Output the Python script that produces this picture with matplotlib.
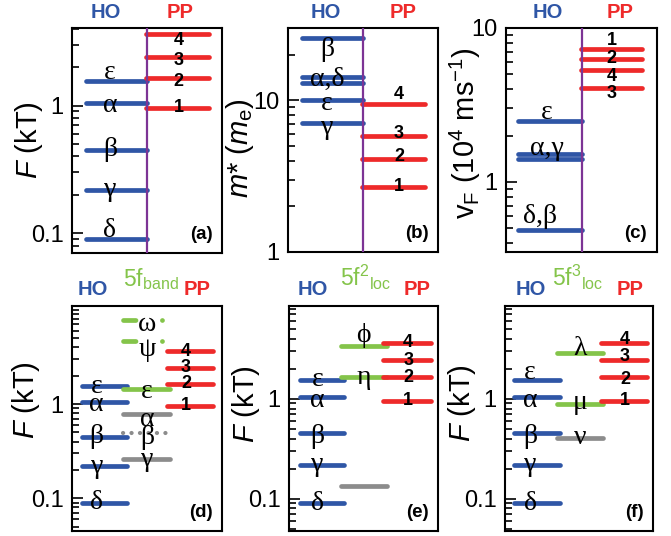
import numpy as np
import matplotlib.pyplot as plt
from matplotlib.ticker import LogLocator, NullFormatter, FixedLocator, FixedFormatter

plt.rcParams["font.family"] = ["Liberation Sans", "DejaVu Sans"]
plt.rcParams["mathtext.fontset"] = "custom"
plt.rcParams["mathtext.rm"] = "Liberation Sans"
plt.rcParams["mathtext.it"] = "Liberation Sans:italic"
plt.rcParams["lines.scale_dashes"] = False

# ---- data ----
ho_names = ["ε", "α", "β", "γ", "δ"]
ho_F = [1.55, 1.05, 0.45, 0.22, 0.09]
pp_names = ["1", "2", "3", "4"]
pp_F = [0.96, 1.65, 2.42, 3.65]

ho_mass_names = ["β", "α,δ", "", "ε", "γ"]
ho_mass = [25.8, 14.3, 13.1, 10.1, 7.1]
pp_mass = [2.7, 4.1, 5.8, 9.4]

ho_vF_names = ["ε", "α,γ", "", "δ,β"]
ho_vF = [2.48, 1.51, 1.40, 0.49]
pp_vF = [7.3, 6.3, 4.08, 5.3]

band_names = ["ω", "ψ", "ε", "α", "β", "γ"]
band_F = [7.8, 4.7, 1.43, 0.78, 0.49, 0.26]
band_kind = ["g-.", "g-.", "g", "k", "k:", "k"]

loc2_names = ["ϕ", "η", ""]
loc2_F = [3.36, 1.65, 0.134]
loc2_kind = ["g", "g", "k"]

loc3_names = ["λ", "μ", "ν"]
loc3_F = [2.9, 0.88, 0.407]
loc3_kind = ["g", "g", "k"]

# ---- style ----
BLUE = "#2f56a6"
RED = "#ee2a2a"
GREEN = "#84c44a"
GRAY = "#8c8c8c"
PURPLE = "#7d3495"
W, H = 671, 536
LW = 3.4

fig = plt.figure(figsize=(W / 100, H / 100), dpi=100)


def add_ax(l, r, t, b):
    return fig.add_axes([l / W, 1 - b / H, (r - l) / W, (b - t) / H])


def bars(ax, vals, x0, x1, color, ls="-", lw=LW):
    for v in vals:
        ax.plot([x0, x1], [v, v], color=color, lw=lw, ls=ls,
                solid_capstyle="round", dash_capstyle="round", zorder=2)


def kind_bars(ax, vals, kinds, x0, x1):
    for v, k in zip(vals, kinds):
        col = GREEN if k[0] == "g" else GRAY
        if k.endswith("-."):
            bars(ax, [v], x0, x1, col, ls=(0, (9, 19, 0.1, 60)))
        elif k.endswith(":"):
            bars(ax, [v], x0, x1, col, ls=(0, (0.1, 6)), lw=3.0)
        else:
            bars(ax, [v], x0, x1, col)


def labels(ax, names, vals, x, offs, greek=True):
    for n, v, d in zip(names, vals, offs):
        if not n:
            continue
        if greek:
            kw = dict(fontsize=20, family=["Liberation Serif", "DejaVu Serif"])
        else:
            kw = dict(fontsize=13, fontweight="bold")
        ax.annotate(n, (x, v), xytext=(0, d), textcoords="offset points",
                    ha="center", va="center", zorder=4, **kw)


def setup(ax, ylim, majors, ylabel, lab_xy, tag):
    ax.set_yscale("log")
    ax.set_ylim(*ylim)
    ax.set_xlim(0, 1)
    ax.set_xticks([])
    ax.yaxis.set_major_locator(FixedLocator(majors))
    ax.yaxis.set_major_formatter(FixedFormatter([f"{m:g}" for m in majors]))
    ax.yaxis.set_minor_locator(LogLocator(base=10, subs=np.arange(1, 10), numticks=30))
    ax.yaxis.set_minor_formatter(NullFormatter())
    ax.tick_params(axis="y", which="both", direction="in", left=True, right=False)
    ax.tick_params(axis="y", which="major", length=8, width=1.2, labelsize=17, pad=6)
    ax.tick_params(axis="y", which="minor", length=5, width=1.2)
    for s in ax.spines.values():
        s.set_linewidth(1.5)
    ax.set_ylabel(ylabel, fontsize=21)
    ax.yaxis.set_label_coords(*lab_xy)
    ax.text(0.935, 0.045, tag, transform=ax.transAxes, ha="right", va="bottom",
            fontsize=13.5, fontweight="bold")


def head(ax, xho, xpp, y, mid=None):
    ax.text(xho, y, "HO", color=BLUE, fontsize=14.5, fontweight="bold",
            ha="center", va="baseline", transform=ax.transAxes)
    ax.text(xpp, y, "PP", color=RED, fontsize=14.5, fontweight="bold",
            ha="center", va="baseline", transform=ax.transAxes)
    if mid is not None:
        ax.text(mid[0], 1.089, mid[1], color=GREEN, fontsize=16.5,
                ha="left", va="baseline", transform=ax.transAxes)


F_LABEL = r"$F$ (kT)"

# (a)
ax = add_ax(72, 222, 28, 253)
bars(ax, ho_F, 0.09, 0.5, BLUE)
bars(ax, pp_F, 0.49, 0.91, RED)
ax.axvline(0.5, color=PURPLE, lw=1.6, zorder=3)
labels(ax, ho_names, ho_F, 0.253, [6.5, -2, 0, 0, 6.5])
labels(ax, pp_names, pp_F, 0.71, [0, -3, -3, -4.5], greek=False)
setup(ax, (0.07, 4.05), [0.1, 1], F_LABEL, (-0.18, 0.5), "(a)")
head(ax, 0.227, 0.72, 1.043)

# (b)
ax = add_ax(288, 438, 28, 252)
bars(ax, ho_mass, 0.093, 0.5, BLUE)
bars(ax, pp_mass, 0.49, 0.91, RED)
ax.axvline(0.5, color=PURPLE, lw=1.6, zorder=3)
labels(ax, ho_mass_names, ho_mass, 0.26, [-8, -2, 0, -2.5, -3])
labels(ax, pp_names, pp_mass, 0.74, [0, 1.5, 2, 7], greek=False)
setup(ax, (1, 30), [1, 10], r"$m$* ($m_\mathrm{e}$)", (-0.215, 0.465), "(b)")
head(ax, 0.253, 0.767, 1.043)

# (c)
ax = add_ax(506, 657, 28, 252)
bars(ax, ho_vF, 0.08, 0.5, BLUE)
bars(ax, pp_vF, 0.497, 0.9, RED)
ax.axvline(0.5, color=PURPLE, lw=1.6, zorder=3)
labels(ax, ho_vF_names[:3], ho_vF[:3], 0.27, [6, 4, 0])
labels(ax, ho_vF_names[3:], ho_vF[3:], 0.225, [9.5])
labels(ax, pp_names, pp_vF, 0.70, [6, 0, -4, -4.5], greek=False)
setup(ax, (0.35, 10), [1, 10],
      r"v$_\mathrm{F}$ (10$^\mathrm{4}$ ms$^\mathrm{-1}$)", (-0.152, 0.533), "(c)")
head(ax, 0.278, 0.755, 1.043)

# (d)
ax = add_ax(72, 222, 306, 531)
bars(ax, ho_F, 0.067, 0.367, BLUE)
kind_bars(ax, band_F, band_kind, 0.34, 0.65)
bars(ax, pp_F, 0.63, 0.94, RED)
labels(ax, ho_names, ho_F, 0.165, [0, -2, 0, 0, 0])
labels(ax, band_names, band_F, 0.5, [-3.5, -6, -1.5, -3.5, -3, 0])
labels(ax, pp_names, pp_F, 0.76, [0, 0, 0, 0], greek=False)
setup(ax, (0.045, 11), [0.1, 1], F_LABEL, (-0.2, 0.58), "(d)")
head(ax, 0.14, 0.833, 1.049, (0.34, r"$\mathregular{5f_{band}}$"))

# (e)
ax = add_ax(289, 438, 306, 531)
bars(ax, ho_F, 0.074, 0.37, BLUE)
kind_bars(ax, loc2_F, loc2_kind, 0.35, 0.66)
bars(ax, pp_F, 0.63, 0.95, RED)
labels(ax, ho_names, ho_F, 0.19, [0, -3, -2, 0, 0])
labels(ax, loc2_names, loc2_F, 0.5, [8, 0, 0])
labels(ax, pp_names, pp_F, 0.80, [0, 0, 0, 0], greek=False)
setup(ax, (0.0475, 8.5), [0.1, 1], F_LABEL, (-0.18, 0.565), "(e)")
head(ax, 0.161, 0.86, 1.049, (0.342, r"$\mathregular{5f^2{}_{loc}}$"))

# (f)
ax = add_ax(505, 653, 306, 531)
bars(ax, ho_F, 0.06, 0.37, BLUE)
kind_bars(ax, loc3_F, loc3_kind, 0.35, 0.66)
bars(ax, pp_F, 0.65, 0.96, RED)
labels(ax, ho_names, ho_F, 0.17, [5, -3, -2, 0, 0])
labels(ax, loc3_names, loc3_F, 0.51, [3, 1.5, 0])
labels(ax, pp_names, pp_F, 0.81, [0, -2, 3, 2], greek=False)
setup(ax, (0.0475, 8.5), [0.1, 1], F_LABEL, (-0.18, 0.57), "(f)")
head(ax, 0.176, 0.845, 1.049, (0.318, r"$\mathregular{5f^3{}_{loc}}$"))

fig.savefig("out.png", dpi=100, facecolor="white")
